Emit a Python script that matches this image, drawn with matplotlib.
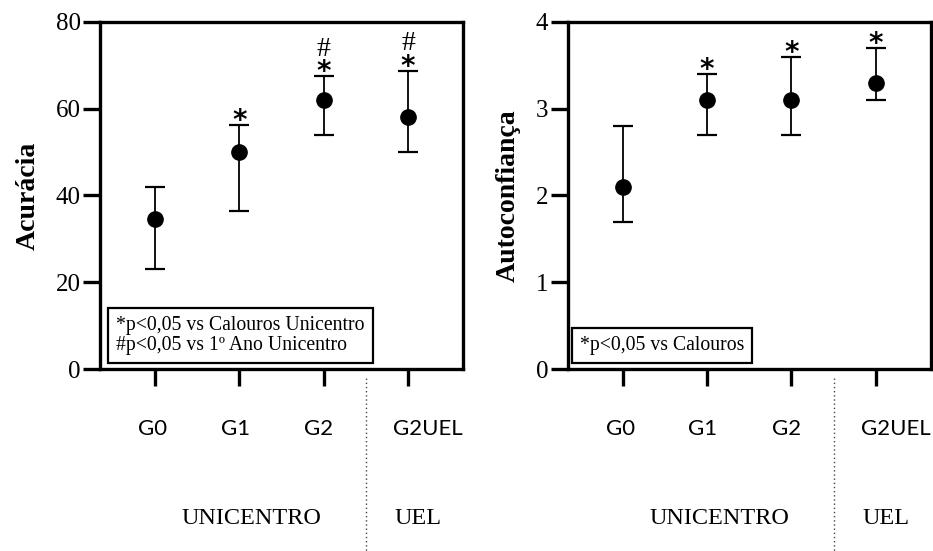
import numpy as np
import matplotlib.pyplot as plt
import matplotlib.transforms as mtransforms

groups = ['G0', 'G1', 'G2', 'G2UEL']

acc_mean = [34.5, 50.0, 62.0, 58.0]
acc_low = [23.0, 36.5, 54.0, 50.0]
acc_high = [42.0, 56.3, 67.5, 68.8]
acc_marks = ['', '*', '#*', '#*']
acc_note = '*p<0,05 vs Calouros Unicentro\n#p<0,05 vs 1º Ano Unicentro'

conf_mean = [2.1, 3.1, 3.1, 3.3]
conf_low = [1.7, 2.7, 2.7, 3.1]
conf_high = [2.8, 3.4, 3.6, 3.7]
conf_marks = ['', '*', '*', '*']
conf_note = '*p<0,05 vs Calouros'

SERIF = 'Liberation Serif'
SANS = 'Lato'

fig = plt.figure(figsize=(9.33, 5.51), dpi=100)
ax1 = fig.add_axes([0.1072, 0.3303, 0.389, 0.6298])
ax2 = fig.add_axes([0.6085, 0.3303, 0.389, 0.6298])


def panel(ax, mean, low, high, marks, note, box_x, ylabel, ymax, step):
    x = np.arange(len(groups))
    mean = np.array(mean)
    yerr = [mean - np.array(low), np.array(high) - mean]
    ax.errorbar(x, mean, yerr=yerr, fmt='o', color='black', ms=11,
                elinewidth=1.3, capsize=7, capthick=1.6, zorder=3)
    ax.set_xlim(-0.65, 3.65)
    ax.set_ylim(0, ymax)
    ax.set_yticks(np.arange(0, ymax + step / 2, step))
    for s in ax.spines.values():
        s.set_linewidth(2.4)
    ax.tick_params(axis='y', length=12, width=2.4, labelsize=18, pad=2)
    ax.tick_params(axis='x', length=12, width=2.4, labelsize=16, pad=24)
    for lab in ax.get_yticklabels():
        lab.set_fontfamily(SERIF)
    ax.set_xticks(x)
    ax.set_xticklabels(groups, fontfamily=SANS)
    offs = [-2, -4, -5, 20]
    for lab, dx in zip(ax.get_xticklabels(), offs):
        lab.set_transform(lab.get_transform() +
                          mtransforms.ScaledTranslation(dx / 100, 0, fig.dpi_scale_trans))
    ax.set_ylabel(ylabel, fontfamily=SERIF, fontweight='bold', fontsize=20, labelpad=11)

    # significance marks
    for i, m in enumerate(marks):
        if not m:
            continue
        ax.annotate('*', (x[i], high[i]), xytext=(0, -3), textcoords='offset points',
                    ha='center', va='baseline', fontsize=20, fontweight='bold',
                    fontfamily='DejaVu Sans')
        if '#' in m:
            ax.annotate('#', (x[i], high[i]), xytext=(0, 14.5), textcoords='offset points',
                        ha='center', va='baseline', fontsize=20, fontfamily=SERIF)

    # note box
    ax.text(box_x, 0.04, note, transform=ax.transAxes, ha='left', va='bottom',
            fontsize=14.2, fontfamily=SERIF, linespacing=1.1,
            bbox=dict(boxstyle='square,pad=0.4', fc='white', ec='black', lw=1.6))

    # group separators and labels
    trans = mtransforms.blended_transform_factory(ax.transData, ax.transAxes)
    ax.plot([2.5, 2.5], [-0.025, -0.53], transform=trans, color='#444444',
            ls=(0, (1, 2)), lw=1.0, clip_on=False)
    ax.text(1.15, -0.43, 'UNICENTRO', transform=trans, ha='center', va='center',
            fontsize=17.5, fontfamily=SERIF)
    ax.text(3.12, -0.43, 'UEL', transform=trans, ha='center', va='center',
            fontsize=17.5, fontfamily=SERIF)


panel(ax1, acc_mean, acc_low, acc_high, acc_marks, acc_note, 0.045,
      'Acurácia', 80, 20)
panel(ax2, conf_mean, conf_low, conf_high, conf_marks, conf_note, 0.033,
      'Autoconfiança', 4, 1)

fig.savefig('out.png', dpi=100)
